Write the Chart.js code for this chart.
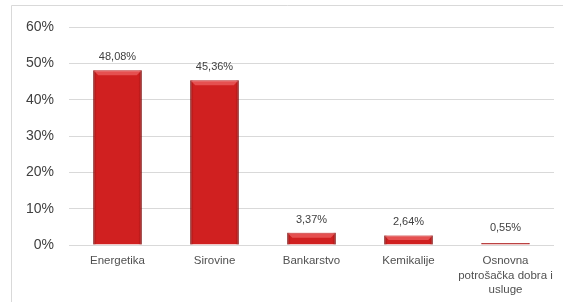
<!DOCTYPE html>
<html>
<head>
<meta charset="utf-8">
<script src="https://cdn.jsdelivr.net/npm/chart.js@4"></script>
<style>
    html, body { margin: 0; padding: 0; background: #fff; }
</style>
</head>
<body>
<canvas id="chart" width="563" height="302"></canvas>
<script>
var categories = ['Energetika', 'Sirovine', 'Bankarstvo', 'Kemikalije', ['Osnovna', 'potrošačka dobra i', 'usluge']];
var shares = [48.08, 45.36, 3.37, 2.64, 0.55];
var yTicks = [0, 10, 20, 30, 40, 50, 60];

function pct(v) {
    return v.toFixed(2).replace('.', ',') + '%';
}

// outer frame of the chart box (cut at right and bottom)
var frame = {
    id: 'frame',
    beforeDraw: function(chart) {
        var c = chart.ctx;
        c.save();
        c.strokeStyle = '#d9d9d9';
        c.lineWidth = 1;
        c.beginPath();
        c.moveTo(11.5, chart.height);
        c.lineTo(11.5, 5.5);
        c.lineTo(chart.width, 5.5);
        c.stroke();
        c.restore();
    }
};

// shading + value labels on the bars
var barLook = {
    id: 'barLook',
    afterDatasetsDraw: function(chart) {
        var ctx = chart.ctx;
        var meta = chart.getDatasetMeta(0);
        meta.data.forEach(function(bar, i) {
            var left = bar.x - bar.width / 2;
            var right = bar.x + bar.width / 2;
            var top = bar.y;
            var bottom = bar.base;
            var h = bottom - top;
            ctx.save();
            if (h > 2) {
                var g = ctx.createLinearGradient(left, 0, right, 0);
                g.addColorStop(0, 'rgba(90,0,0,0.45)');
                g.addColorStop(0.07, 'rgba(90,0,0,0)');
                g.addColorStop(0.93, 'rgba(90,0,0,0)');
                g.addColorStop(1, 'rgba(90,0,0,0.45)');
                ctx.fillStyle = g;
                ctx.fillRect(left, top, right - left, h);
                var bev = Math.min(5, h / 2);
                ctx.fillStyle = 'rgba(255,140,140,0.45)';
                ctx.beginPath();
                ctx.moveTo(left, top);
                ctx.lineTo(right, top);
                ctx.lineTo(right - bev, top + bev);
                ctx.lineTo(left + bev, top + bev);
                ctx.closePath();
                ctx.fill();
            }
            ctx.fillStyle = '#404040';
            ctx.font = '11px "Liberation Sans", Arial, sans-serif';
            ctx.textAlign = 'center';
            ctx.textBaseline = 'middle';
            ctx.fillText(pct(shares[i]), bar.x, top - (h > 3 ? 13 : 15));
            ctx.restore();
        });
    }
};

var ctx = document.getElementById('chart').getContext('2d');
var myChart = new Chart(ctx, {
    type: 'bar',
    data: {
        labels: categories,
        datasets: [{
            data: shares,
            backgroundColor: '#d02020',
            borderColor: '#9a1414',
            borderWidth: 1,
            barPercentage: 0.5,
            categoryPercentage: 1.0
        }]
    },
    options: {
        responsive: false,
        animation: false,
        layout: { padding: { top: 27, right: 9, bottom: 0, left: 0 } },
        plugins: {
            legend: { display: false },
            tooltip: { enabled: false }
        },
        scales: {
            x: {
                grid: { display: false },
                border: { display: false },
                ticks: {
                    color: '#505050',
                    font: { family: '"Liberation Sans", Arial, sans-serif', size: 11.5, lineHeight: 1.25 },
                    padding: 1,
                    maxRotation: 0,
                    autoSkip: false
                },
                afterFit: function(scale) { scale.height = 57; }
            },
            y: {
                min: 0,
                max: 60,
                afterBuildTicks: function(scale) {
                    scale.ticks = yTicks.map(function(v) { return { value: v }; });
                },
                grid: { color: '#d9d9d9', drawTicks: false },
                border: { display: false },
                ticks: {
                    color: '#404040',
                    font: { family: '"Liberation Sans", Arial, sans-serif', size: 14 },
                    padding: 15,
                    callback: function(v) { return v + '%'; }
                },
                afterFit: function(scale) { scale.width = 69; }
            }
        }
    },
    plugins: [frame, barLook]
});
</script>
</body>
</html>
